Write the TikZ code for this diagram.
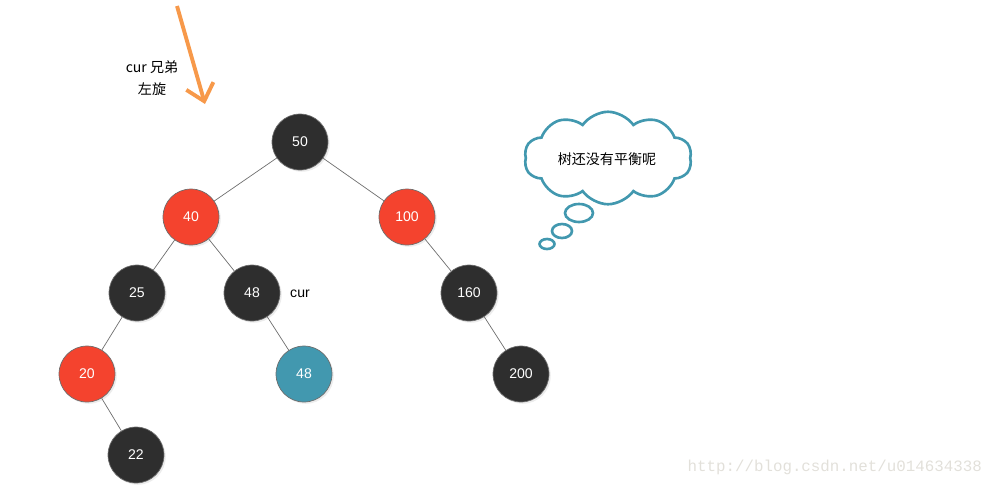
\documentclass[tikz,border=0pt]{standalone}
\usepackage{fontspec}
\setmainfont{Liberation Sans}
\newfontfamily\cjk{Noto Sans CJK SC}
\newfontfamily\wmfont{Liberation Mono}
\usetikzlibrary{arrows.meta}
\usetikzlibrary{shapes.symbols}
\usetikzlibrary{shapes.geometric}
\usetikzlibrary{shadows}
\definecolor{rbblack}{HTML}{2E2E2E}
\definecolor{rbred}{HTML}{F4432E}
\definecolor{rbblue}{HTML}{4298AF}
\definecolor{rbedge}{HTML}{6E6E6E}
\definecolor{rborange}{HTML}{F7994A}
\definecolor{rbmark}{HTML}{E2E0DA}
\tikzset{
  rbnode/.style={
    circle, draw=rbedge, line width=0.4pt, minimum size=1.12cm,
    inner sep=0pt, text=white, font=\footnotesize,
    drop shadow={shadow xshift=1pt, shadow yshift=-1pt, opacity=0.15}},
  rbblacknode/.style={rbnode, fill=rbblack},
  rbrednode/.style={rbnode, fill=rbred},
  rbbluenode/.style={rbnode, fill=rbblue},
  rbline/.style={draw=rbedge, line width=0.4pt},
  rbnote/.style={font=\cjk\footnotesize, text=black, align=center},
  rbbubble/.style={draw=rbblue, line width=1.5pt, ellipse, inner sep=0pt},
}

\begin{document}
\begin{tikzpicture}[x=0.02cm, y=-0.02cm]
\useasboundingbox (0,0) rectangle (997,488);

% The tree.
\node[rbblacknode] (n50) at (300,142) {50};
\node[rbrednode] (n40) at (191,217) {40};
\node[rbrednode] (n100) at (407,217) {100};
\node[rbblacknode] (n25) at (137,293) {25};
\node[rbblacknode] (n48) at (252,293) {48};
\node[rbblacknode] (n160) at (469,293) {160};
\node[rbrednode] (n20) at (87,374) {20};
\node[rbbluenode] (n48b) at (304,374) {48};
\node[rbblacknode] (n200) at (521,374) {200};
\node[rbblacknode] (n22) at (136,455) {22};
\draw[rbline] (n50) -- (n40);
\draw[rbline] (n50) -- (n100);
\draw[rbline] (n40) -- (n25);
\draw[rbline] (n40) -- (n48);
\draw[rbline] (n100) -- (n160);
\draw[rbline] (n25) -- (n20);
\draw[rbline] (n48) -- (n48b);
\draw[rbline] (n160) -- (n200);
\draw[rbline] (n20) -- (n22);
\node[font=\footnotesize] (curlabel) at (300,294) {cur};

% Rotation hint.
\coordinate (arrowtop) at (177,6);
\coordinate (arrowtip) at (205,104);
\draw[-{Straight Barb[length=9pt, width=16pt, line width=2.2pt]},
  draw=rborange, line width=2.2pt] (arrowtop) -- (arrowtip);
\node[rbnote] (hint) at (152,78) {cur 兄弟\\[3pt]左旋};

% Thought cloud.
\node[cloud, cloud puffs=10, cloud puff arc=110, aspect=1.9,
  draw=rbblue, line width=1.5pt, minimum width=3.35cm,
  minimum height=1.85cm] (cloud) at (608,158) {};
\node[rbnote] (cloudtext) at (607,159) {树还没有平衡呢};
\node[rbbubble, minimum width=0.56cm, minimum height=0.36cm]
  (bub1) at (579,213) {};
\node[rbbubble, minimum width=0.4cm, minimum height=0.28cm]
  (bub2) at (562,231) {};
\node[rbbubble, minimum width=0.3cm, minimum height=0.2cm]
  (bub3) at (547,244) {};

% Watermark.
\node[font=\wmfont\small, text=rbmark, anchor=east] (mark) at (988,467)
  {http://blog.csdn.net/u014634338};

\end{tikzpicture}
\end{document}
